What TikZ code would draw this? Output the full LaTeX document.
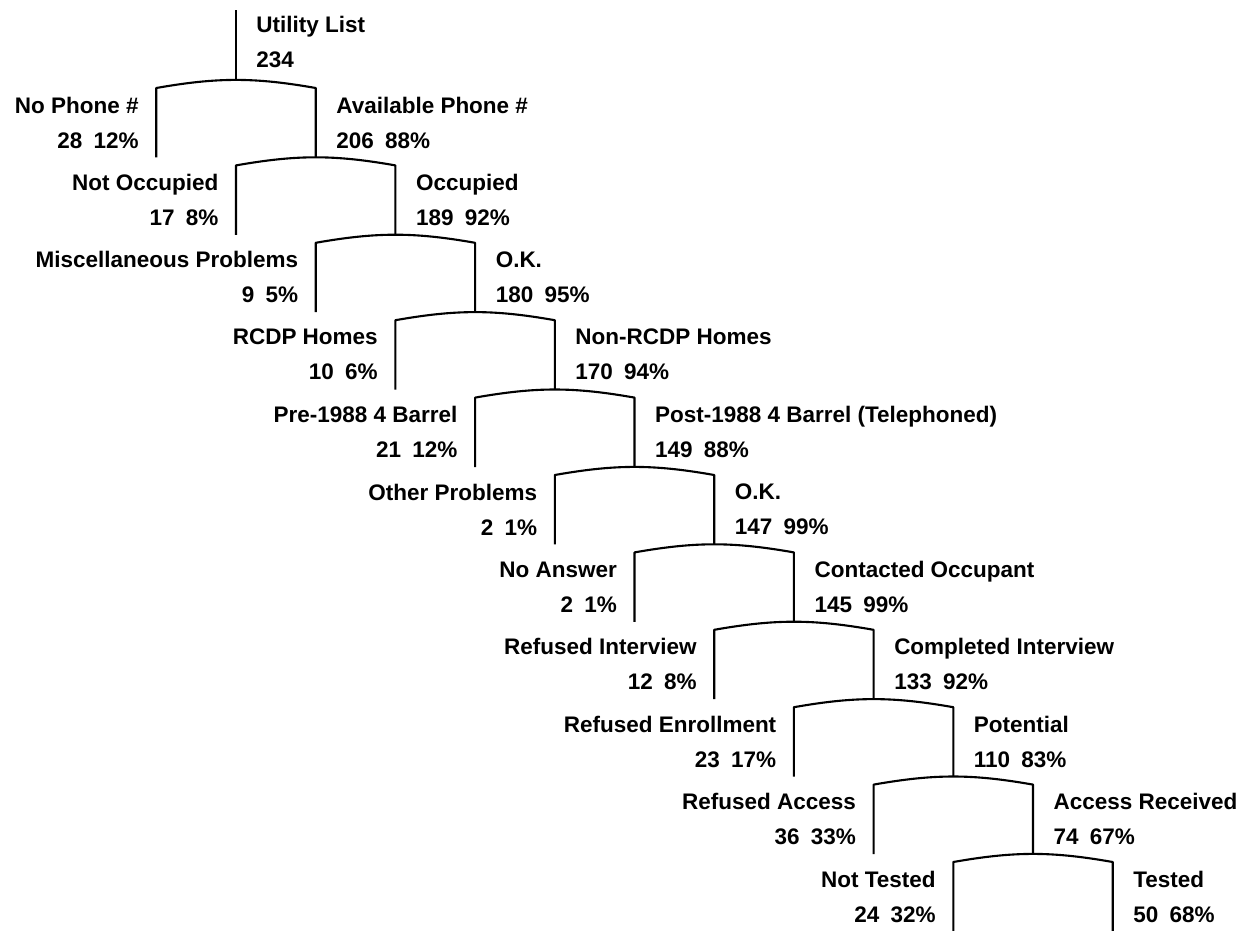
\documentclass[tikz,border=0pt]{standalone}
\usepackage{fontspec}
\setmainfont{Liberation Sans}
\usetikzlibrary{positioning}

\begin{document}
\begin{tikzpicture}[x=0.02cm, y=-0.02cm,
    branch/.style={line width=1.2pt, line join=round},
    lbl/.style={font=\fontsize{12.8}{19.9}\selectfont\bfseries, inner sep=0pt},
    leftlbl/.style={lbl, anchor=east, align=right},
    rightlbl/.style={lbl, anchor=west, align=left}]
\useasboundingbox (0,0) rectangle (1251,930);
% root of the tree
\coordinate (top) at (236,10);
\coordinate (p1) at (236,80);
\draw[branch] (top) -- (p1);
\node[rightlbl] (root) at (256,42) {Utility List\\234};
% one split per level: left branch drops out, right branch goes on
\foreach \k/\ltxt/\lnum/\rtxt/\rnum in {
    1/No Phone \#/28\enspace12\%/Available Phone \#/206\enspace88\%,
    2/Not Occupied/17\enspace8\%/Occupied/189\enspace92\%,
    3/Miscellaneous Problems/9\enspace5\%/O.K./180\enspace95\%,
    4/RCDP Homes/10\enspace6\%/Non-RCDP Homes/170\enspace94\%,
    5/Pre-1988 4 Barrel/21\enspace12\%/Post-1988 4 Barrel (Telephoned)/149\enspace88\%,
    6/Other Problems/2\enspace1\%/O.K./147\enspace99\%,
    7/No Answer/2\enspace1\%/Contacted Occupant/145\enspace99\%,
    8/Refused Interview/12\enspace8\%/Completed Interview/133\enspace92\%,
    9/Refused Enrollment/23\enspace17\%/Potential/110\enspace83\%,
    10/Refused Access/36\enspace33\%/Access Received/74\enspace67\%,
    11/Not Tested/24\enspace32\%/Tested/50\enspace68\%}{
  \pgfmathsetmacro\x{236+79.7*(\k-1)}
  \pgfmathsetmacro\y{80+77.4*(\k-1)}
  \coordinate (l\k) at (\x-79.7,\y+8);
  \coordinate (r\k) at (\x+79.7,\y+8);
  \coordinate (lf\k) at (\x-79.7,\y+77.4);
  \coordinate (rf\k) at (\x+79.7,\y+77.4);
  \draw[branch] (lf\k) -- (l\k) to[bend left=10] (r\k) -- (rf\k);
  \node[leftlbl] (ln\k) at (\x-97,\y+42.5) {\ltxt\\\lnum};
  \node[rightlbl] (rn\k) at (\x+100,\y+42.5) {\rtxt\\\rnum};
}
\end{tikzpicture}
\end{document}
